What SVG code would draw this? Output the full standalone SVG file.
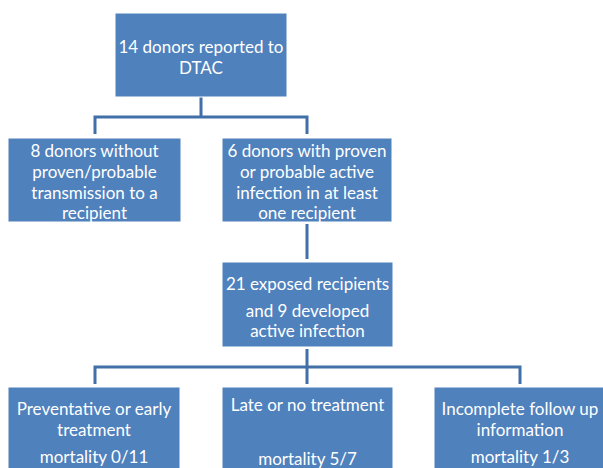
<svg xmlns="http://www.w3.org/2000/svg" width="603" height="468" viewBox="0 0 603 468">
<style>
.box{fill:#4F81BD;stroke:#FFFFFF;stroke-width:1}
.t{font-family:Lato,"Liberation Sans",sans-serif;font-size:17px;fill:#FFFFFF;text-anchor:middle}
.c{fill:none;stroke:#4170A8;stroke-width:3}
</style>
<rect width="603" height="468" fill="#FFFFFF"/>
<g id="connectors">
<path class="c" d="M201,97 V117 M95,134 V117 H307 V134"/>
<path class="c" d="M307,224 V259"/>
<path class="c" d="M307,349 V384 M95,384 V367 H520 V384"/>
</g>
<g id="n1">
<rect class="box" x="115" y="13" width="172" height="84"/>
<text class="t" x="201" y="53">14 donors reported to</text>
<text class="t" x="201" y="74">DTAC</text>
</g>
<g id="n2">
<rect class="box" x="8" y="138" width="173" height="84"/>
<text class="t" x="94.5" y="157">8 donors without</text>
<text class="t" x="94.5" y="178">proven/probable</text>
<text class="t" x="94.5" y="199">transmission to a</text>
<text class="t" x="94.5" y="219">recipient</text>
</g>
<g id="n3">
<rect class="box" x="222" y="138" width="170" height="84"/>
<text class="t" x="307" y="157">6 donors with proven</text>
<text class="t" x="307" y="178">or probable active</text>
<text class="t" x="307" y="199">infection in at least</text>
<text class="t" x="307" y="219">one recipient</text>
</g>
<g id="n4">
<rect class="box" x="222" y="262" width="171" height="85"/>
<text class="t" x="307.5" y="290">21 exposed recipients</text>
<text class="t" x="307.5" y="317">and 9 developed</text>
<text class="t" x="307.5" y="337">active infection</text>
</g>
<g id="n5">
<rect class="box" x="8" y="387" width="172" height="90"/>
<text class="t" x="94" y="415">Preventative or early</text>
<text class="t" x="94" y="436">treatment</text>
<text class="t" x="94" y="463">mortality 0/11</text>
</g>
<g id="n6">
<rect class="box" x="222" y="387" width="171" height="90"/>
<text class="t" x="307.5" y="411">Late or no treatment</text>
<text class="t" x="307.5" y="465">mortality 5/7</text>
</g>
<g id="n7">
<rect class="box" x="434" y="387" width="175" height="90"/>
<text class="t" x="520" y="415">Incomplete follow up</text>
<text class="t" x="520" y="436">information</text>
<text class="t" x="520" y="463">mortality 1/3</text>
</g>
</svg>
